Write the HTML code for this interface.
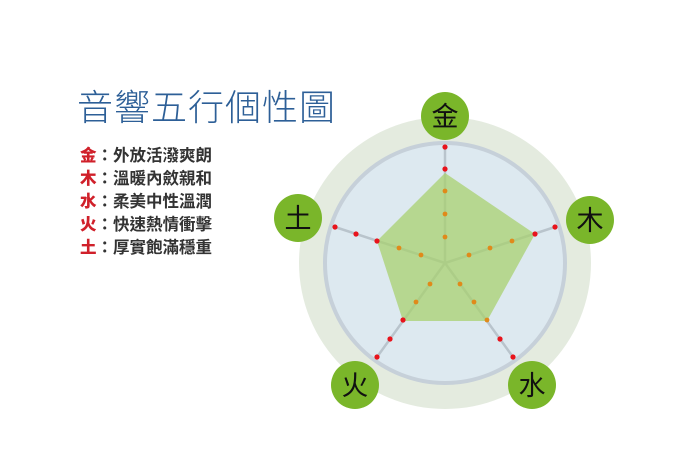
<!DOCTYPE html>
<html><head><meta charset="utf-8"><style>
body{margin:0;width:700px;height:467px;background:#fff;overflow:hidden;position:relative;font-family:"Liberation Sans","Noto Sans CJK TC",sans-serif}
.t{position:absolute;left:77px;top:86px;font-size:36px;line-height:44px;color:#2d5f97;letter-spacing:1px;font-weight:300;font-family:"Liberation Sans","Noto Sans CJK TC",sans-serif}
.l{position:absolute;left:80px;font-size:16.5px;line-height:20px;font-weight:bold;color:#333}
.l b{color:#d0202a}
</style></head><body>
<div class="t">音響五行個性圖</div>
<div class="l" style="top:146px"><b>金</b>：外放活潑爽朗</div>
<div class="l" style="top:169px"><b>木</b>：溫暖內斂親和</div>
<div class="l" style="top:192px"><b>水</b>：柔美中性溫潤</div>
<div class="l" style="top:215px"><b>火</b>：快速熱情衝擊</div>
<div class="l" style="top:238px"><b>土</b>：厚實飽滿穩重</div>
<svg width="700" height="467" style="position:absolute;left:0;top:0" font-family="Liberation Sans, Noto Sans CJK TC, sans-serif">
<circle cx="445" cy="263" r="146" fill="#e4ebdf"/>
<circle cx="445" cy="263" r="120" fill="#dde9f0" stroke="#c6d0d9" stroke-width="4"/>
<g stroke="#b9c4cc" stroke-width="2.5">
<line x1="445" y1="263" x2="445" y2="147"/>
<line x1="445" y1="263" x2="555" y2="227"/>
<line x1="445" y1="263" x2="513" y2="357"/>
<line x1="445" y1="263" x2="377" y2="357"/>
<line x1="445" y1="263" x2="335" y2="227"/>
</g>
<polygon points="445,173 535,234 487,321 403,321 377,241" fill="#a8d070" opacity="0.75"/>
<g fill="#e8131c">
<circle cx="445" cy="147" r="2.6"/><circle cx="445" cy="169" r="2.6"/>
<circle cx="555" cy="227" r="2.6"/><circle cx="535" cy="234" r="2.6"/>
<circle cx="513" cy="357" r="2.6"/><circle cx="500" cy="339" r="2.6"/>
<circle cx="377" cy="357" r="2.6"/><circle cx="390" cy="339" r="2.6"/><circle cx="403" cy="320" r="2.6"/>
<circle cx="335" cy="227" r="2.6"/><circle cx="356" cy="234" r="2.6"/><circle cx="377" cy="241" r="2.6"/>
</g>
<g fill="#e08a1a">
<circle cx="445" cy="191" r="2.4"/><circle cx="445" cy="214" r="2.4"/><circle cx="445" cy="237" r="2.4"/>
<circle cx="512" cy="241" r="2.4"/><circle cx="490" cy="248" r="2.4"/><circle cx="469" cy="255" r="2.4"/>
<circle cx="487" cy="320" r="2.4"/><circle cx="474" cy="302" r="2.4"/><circle cx="460" cy="284" r="2.4"/>
<circle cx="416" cy="302" r="2.4"/><circle cx="430" cy="284" r="2.4"/>
<circle cx="399" cy="248" r="2.4"/><circle cx="421" cy="255" r="2.4"/>
</g>
<g fill="#7ab62a">
<circle cx="445" cy="116" r="24"/><circle cx="590" cy="220" r="24"/><circle cx="532" cy="385" r="24"/><circle cx="355" cy="385" r="24"/><circle cx="298" cy="218" r="24"/>
</g>
<g font-size="27" fill="#111" text-anchor="middle">
<text x="445" y="126">金</text><text x="590" y="230">木</text><text x="532" y="395">水</text><text x="355" y="395">火</text><text x="298" y="228">土</text>
</g>
</svg>
</body></html>
